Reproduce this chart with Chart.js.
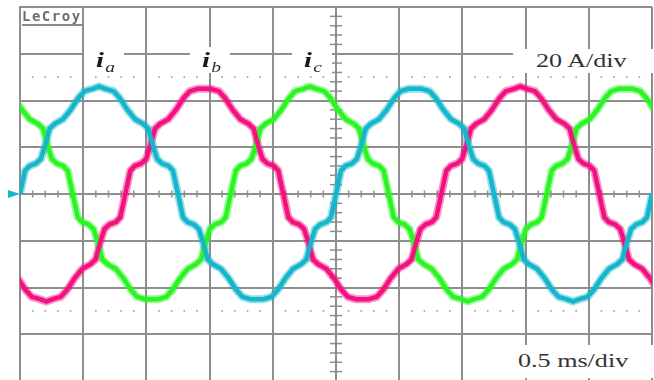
<!DOCTYPE html>
<html>
<head>
<meta charset="utf-8">
<script src="https://cdn.jsdelivr.net/npm/chart.js@4.4.1/dist/chart.umd.min.js"></script>
<style>
  html, body { margin: 0; padding: 0; background: #fff; overflow: hidden; }
  #wrap { position: relative; width: 654px; height: 380px; overflow: hidden; }
  #osc { position: absolute; left: 0; top: 0; }
  .caja { position: absolute; background: #fff; color: #222; }
  .fase { font-family: "Liberation Serif", serif; height: 26px; width: 40px; top: 47px; }
  .fase span { position: absolute; left: 12px; top: 2px; transform: scaleX(1.3); transform-origin: left top; white-space: nowrap; }
  .fase b { font-size: 22px; font-style: italic; line-height: 22px; color: #1a1a1a; }
  .fase sub { font-size: 15px; font-style: italic; vertical-align: -5px; margin-left: 1px; color: #2a2a40; }
  .escala { font-family: "Liberation Serif", serif; font-size: 18px; color: #333; }
  .escala span { position: absolute; white-space: nowrap; transform: scaleX(1.45); transform-origin: left top; }
  #lecroy { left: 22px; top: 9px; width: 60px; height: 15px; font-family: "DejaVu Sans Mono", monospace;
            font-weight: bold; font-size: 14px; color: #6d6d6d; line-height: 15px; letter-spacing: 1.5px;
            border-bottom: 2px solid #8a8a8a; }
</style>
</head>
<body>
<div id="wrap">
  <canvas id="osc" width="654" height="381"></canvas>
  <div class="caja" id="lecroy">LeCroy</div>
  <div class="caja fase" style="left:84px"><span><b>i</b><sub>a</sub></span></div>
  <div class="caja fase" style="left:190px"><span><b>i</b><sub>b</sub></span></div>
  <div class="caja fase" style="left:292px"><span><b>i</b><sub>c</sub></span></div>
  <div class="caja escala" style="left:513px; top:49px; width:141px; height:24px;"><span style="left:23px; top:2px;">20 A/div</span></div>
  <div class="caja escala" style="left:502px; top:345px; width:152px; height:33px;"><span style="left:16px; top:6px;">0.5 ms/div</span></div>
</div>
<script>
// ----------------------
// DATOS (tiempo en ms, corriente en A)
// ----------------------
const tiempoA = [
  0, 0.04, 0.075, 0.125, 0.165, 0.2, 0.235, 0.275, 0.34, 0.4, 0.46, 0.51, 0.575, 0.625, 0.675, 0.74, 0.79, 0.85, 0.91, 0.975, 1.015, 1.05, 1.085, 1.125, 1.175, 1.21,
  1.25, 1.29, 1.325, 1.375, 1.415, 1.45, 1.485, 1.525, 1.59, 1.65, 1.71, 1.76, 1.825, 1.875, 1.925, 1.99, 2.04, 2.1, 2.16, 2.225, 2.265, 2.3, 2.335, 2.375, 2.425, 2.46,
  2.5, 2.54, 2.575, 2.625, 2.665, 2.7, 2.735, 2.775, 2.84, 2.9, 2.96, 3.01, 3.075, 3.125, 3.175, 3.24, 3.29, 3.35, 3.41, 3.475, 3.515, 3.55, 3.585, 3.625, 3.675, 3.71,
  3.75, 3.79, 3.825, 3.875, 3.915, 3.95, 3.985, 4.025, 4.09, 4.15, 4.21, 4.26, 4.325, 4.375, 4.425, 4.49, 4.54, 4.6, 4.66, 4.725, 4.765, 4.8, 4.835, 4.875, 4.925, 4.96, 5.0
];
const corrienteA = [
  0, 10, 12, 13, 15, 21, 28, 30, 32, 36, 41, 44, 45, 46, 45, 44, 41, 36, 32, 30, 28, 21, 15, 13, 12, 10,
  0, -10, -12, -13, -15, -21, -28, -30, -32, -36, -41, -44, -45, -45, -45, -44, -41, -36, -32, -30, -28, -21, -15, -13, -12, -10,
  0, 10, 12, 13, 15, 21, 28, 30, 32, 36, 41, 44, 45, 45, 45, 44, 41, 36, 32, 30, 28, 21, 15, 13, 12, 10,
  0, -10, -12, -13, -15, -21, -28, -30, -32, -36, -41, -44, -45, -46, -45, -44, -41, -36, -32, -30, -28, -21, -15, -13, -12, -10, 0
];

const tiempoB = [
  -0.077, -0.017, 0.043, 0.093, 0.158, 0.208, 0.258, 0.323, 0.373, 0.433, 0.493, 0.558, 0.598, 0.633, 0.668, 0.708, 0.758, 0.793,
  0.833, 0.873, 0.908, 0.958, 0.998, 1.033, 1.068, 1.108, 1.173, 1.233, 1.293, 1.343, 1.408, 1.458, 1.508, 1.573, 1.623, 1.683, 1.743, 1.808, 1.848, 1.883, 1.918, 1.958, 2.008, 2.043,
  2.083, 2.123, 2.158, 2.208, 2.248, 2.283, 2.318, 2.358, 2.423, 2.483, 2.543, 2.593, 2.658, 2.708, 2.758, 2.823, 2.873, 2.933, 2.993, 3.058, 3.098, 3.133, 3.168, 3.208, 3.258, 3.293,
  3.333, 3.373, 3.408, 3.458, 3.498, 3.533, 3.568, 3.608, 3.673, 3.733, 3.793, 3.843, 3.908, 3.958, 4.008, 4.073, 4.123, 4.183, 4.243, 4.308, 4.348, 4.383, 4.418, 4.458, 4.508, 4.543,
  4.583, 4.623, 4.658, 4.708, 4.748, 4.783, 4.818, 4.858, 4.923, 4.983, 5.043
];
const corrienteB = [
  -32, -36, -41, -44, -45, -46, -45, -44, -41, -36, -32, -30, -28, -21, -15, -13, -12, -10,
  0, 10, 12, 13, 15, 21, 28, 30, 32, 36, 41, 44, 45, 45, 45, 44, 41, 36, 32, 30, 28, 21, 15, 13, 12, 10,
  0, -10, -12, -13, -15, -21, -28, -30, -32, -36, -41, -44, -45, -45, -45, -44, -41, -36, -32, -30, -28, -21, -15, -13, -12, -10,
  0, 10, 12, 13, 15, 21, 28, 30, 32, 36, 41, 44, 45, 46, 45, 44, 41, 36, 32, 30, 28, 21, 15, 13, 12, 10,
  0, -10, -12, -13, -15, -21, -28, -30, -32, -36, -41
];

const tiempoC = [
  -0.093, -0.043, 0.017, 0.077, 0.142, 0.182, 0.217, 0.252, 0.292, 0.342, 0.377,
  0.417, 0.457, 0.492, 0.542, 0.582, 0.617, 0.652, 0.692, 0.757, 0.817, 0.877, 0.927, 0.992, 1.042, 1.092, 1.157, 1.207, 1.267, 1.327, 1.392, 1.432, 1.467, 1.502, 1.542, 1.592, 1.627,
  1.667, 1.707, 1.742, 1.792, 1.832, 1.867, 1.902, 1.942, 2.007, 2.067, 2.127, 2.177, 2.242, 2.292, 2.342, 2.407, 2.457, 2.517, 2.577, 2.642, 2.682, 2.717, 2.752, 2.792, 2.842, 2.877,
  2.917, 2.957, 2.992, 3.042, 3.082, 3.117, 3.152, 3.192, 3.257, 3.317, 3.377, 3.427, 3.492, 3.542, 3.592, 3.657, 3.707, 3.767, 3.827, 3.892, 3.932, 3.967, 4.002, 4.042, 4.092, 4.127,
  4.167, 4.207, 4.242, 4.292, 4.332, 4.367, 4.402, 4.442, 4.507, 4.567, 4.627, 4.677, 4.742, 4.792, 4.842, 4.907, 4.957, 5.017
];
const corrienteC = [
  44, 41, 36, 32, 30, 28, 21, 15, 13, 12, 10,
  0, -10, -12, -13, -15, -21, -28, -30, -32, -36, -41, -44, -45, -45, -45, -44, -41, -36, -32, -30, -28, -21, -15, -13, -12, -10,
  0, 10, 12, 13, 15, 21, 28, 30, 32, 36, 41, 44, 45, 46, 45, 44, 41, 36, 32, 30, 28, 21, 15, 13, 12, 10,
  0, -10, -12, -13, -15, -21, -28, -30, -32, -36, -41, -44, -45, -46, -45, -44, -41, -36, -32, -30, -28, -21, -15, -13, -12, -10,
  0, 10, 12, 13, 15, 21, 28, 30, 32, 36, 41, 44, 45, 45, 45, 44, 41, 36
];

// pantalla: 10 div x 0.5 ms, 8 div x 20 A
const tiempoMax = 5;
const corrienteMax = 80;
const cursores = [50, -50];

const colorA = '#16b6ca';
const colorB = '#f2117f';
const colorC = '#2cf424';
const colorRejilla = '#8e8e8e';

const puntos = (ts, vs) => ts.map((t, i) => ({ x: t, y: vs[i] }));

// rejilla fina del osciloscopio, cursores punteados y marca de disparo
const extrasOsc = {
  id: 'extrasOsc',
  beforeDatasetsDraw(chart) {
    const { ctx, scales: { x, y }, chartArea } = chart;
    ctx.save();
    ctx.fillStyle = '#9a9a9a';
    cursores.forEach(c => {
      const py = y.getPixelForValue(c);
      for (let k = 1; k < 50; k++) {
        if (k % 5 === 0) continue;
        const px = x.getPixelForValue(k * 0.1);
        ctx.fillRect(px - 0.8, py - 0.8, 1.6, 1.6);
      }
    });
    ctx.strokeStyle = '#8e8e8e';
    ctx.lineWidth = 1.5;
    const y0 = y.getPixelForValue(0);
    for (let k = 1; k < 50; k++) {
      if (k % 5 === 0) continue;
      const px = x.getPixelForValue(k * 0.1);
      ctx.beginPath();
      ctx.moveTo(px, y0 - 3.5);
      ctx.lineTo(px, y0 + 3.5);
      ctx.stroke();
    }
    const x0 = x.getPixelForValue(tiempoMax / 2);
    for (let k = -19; k < 20; k++) {
      if (k % 5 === 0) continue;
      const py = y.getPixelForValue(k * 4);
      ctx.beginPath();
      ctx.moveTo(x0 - 6, py);
      ctx.lineTo(x0 + 6, py);
      ctx.stroke();
    }
    // marca de nivel cero del canal
    ctx.fillStyle = colorA;
    ctx.beginPath();
    ctx.moveTo(chartArea.left - 12, y0 - 4);
    ctx.lineTo(chartArea.left, y0);
    ctx.lineTo(chartArea.left - 12, y0 + 4);
    ctx.closePath();
    ctx.fill();
    ctx.restore();
  }
};

// cada fase: banda de ruido ancha y traza central
const banda = (data, color) => ({
  data,
  borderColor: color + '70',
  borderWidth: 8,
  pointRadius: 0,
  tension: 0,
  fill: false
});
const serie = (data, color) => ({
  data,
  borderColor: color,
  borderWidth: 4.5,
  pointRadius: 0,
  tension: 0,
  fill: false
});

const datosA = puntos(tiempoA, corrienteA);
const datosB = puntos(tiempoB, corrienteB);
const datosC = puntos(tiempoC, corrienteC);

new Chart(document.getElementById('osc').getContext('2d'), {
  type: 'line',
  data: {
    datasets: [
      serie(datosA, colorA),
      serie(datosB, colorB),
      serie(datosC, colorC),
      banda(datosA, colorA),
      banda(datosB, colorB),
      banda(datosC, colorC)
    ]
  },
  options: {
    responsive: false,
    animation: false,
    devicePixelRatio: 1,
    layout: { padding: { left: 20, right: 2, top: 7, bottom: 0 } },
    plugins: { legend: { display: false }, tooltip: { enabled: false } },
    scales: {
      x: {
        type: 'linear', min: 0, max: tiempoMax,
        ticks: { display: false, stepSize: 0.5 },
        grid: { color: colorRejilla, lineWidth: 2, drawTicks: false },
        border: { display: true, color: colorRejilla, width: 2 }
      },
      y: {
        type: 'linear', min: -corrienteMax, max: corrienteMax,
        ticks: { display: false, stepSize: 20 },
        grid: { color: colorRejilla, lineWidth: 2, drawTicks: false },
        border: { display: true, color: colorRejilla, width: 2 }
      }
    }
  },
  plugins: [extrasOsc]
});
</script>
</body>
</html>
